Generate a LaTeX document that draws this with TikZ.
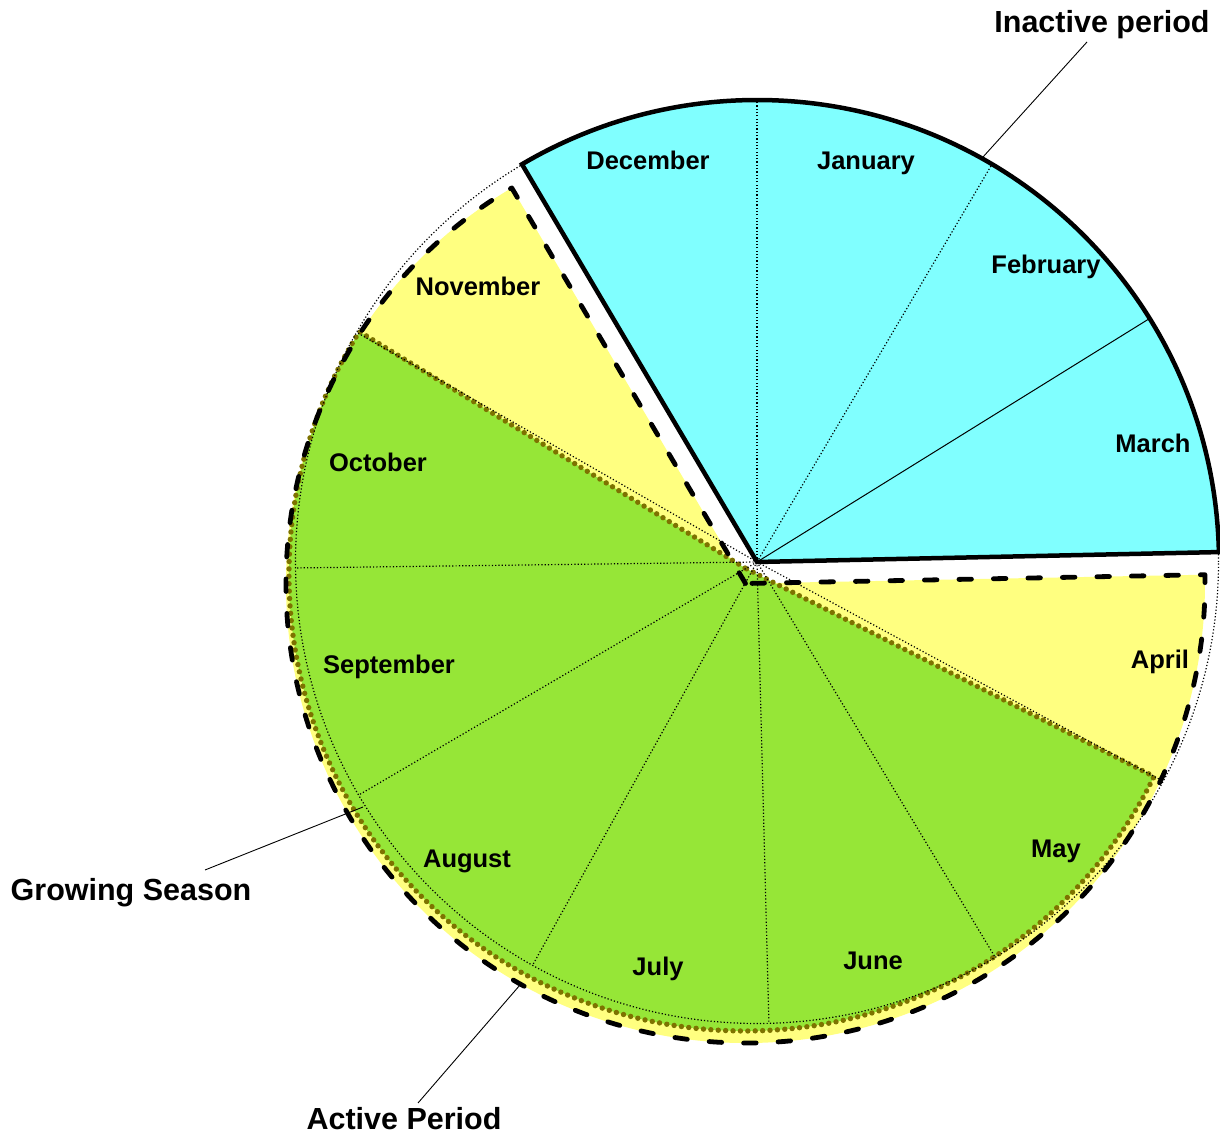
\documentclass[tikz,border=0pt]{standalone}
\usepackage{fontspec}
\setmainfont{Liberation Sans}
\definecolor{inactfill}{RGB}{128,255,255}
\definecolor{actfill}{RGB}{255,255,128}
\definecolor{growfill}{RGB}{150,230,55}
\definecolor{growdot}{RGB}{125,115,0}
\begin{document}
\begin{tikzpicture}[x=1pt,y=1pt,
  mlabel/.style={font=\fontsize{25.5}{30}\selectfont\bfseries, anchor=base, inner sep=0pt},
  olabel/.style={font=\fontsize{30.5}{36}\selectfont\bfseries, anchor=base, inner sep=0pt},
  monthline/.style={black, line width=1.2pt, dash pattern=on 1.2pt off 2.1pt},
  monthsolid/.style={black, line width=1pt},
  actborder/.style={black, line width=4.8pt, line cap=round, line join=round, dash pattern=on 12.5pt off 22pt},
  growborder/.style={growdot, line width=5.4pt, line cap=round, dash pattern=on 0pt off 7.4pt},
  inactborder/.style={black, line width=4.5pt, line join=miter},
  leader/.style={black, line width=0.9pt}
]
\useasboundingbox (0,0) rectangle (1220,1137);

% ---- centres
\coordinate (M) at (757,575);
\coordinate (Yc) at (745.5,553.5);
\coordinate (Gc) at (745,562);
\coordinate (Gapex) at (745,569);

% ---- Active period (yellow)
\path (Yc) ++(120.58:459.5) coordinate (yTL);
\fill[actfill] (Yc) -- (yTL) arc[start angle=120.58, end angle=361.1, radius=459.5] -- cycle;

% ---- Growing season (green)
\path (Gc) ++(147.74:456) coordinate (gTL);
\fill[growfill] (Gapex) -- (gTL) arc[start angle=147.74, end angle=333.77, radius=456] -- cycle;
\draw[growborder] (Gapex) -- (gTL) arc[start angle=147.74, end angle=333.77, radius=456] -- cycle;

% yellow dashed border
\draw[actborder] (Yc) -- (yTL) arc[start angle=120.58, end angle=361.1, radius=459.5] -- cycle;

% ---- Inactive period (blue)
\path (M) ++(1.23:462) coordinate (bR);
\fill[inactfill] (M) -- (bR) arc[start angle=1.23, end angle=120.58, radius=462] -- cycle;

% ---- month pie (thin dotted)
\draw[monthline] (M) circle[radius=461.5];
\foreach \a in {90,59.42,1.23,-28.36,-58.93,-88.52,-119.10,-149.67,-179.26,150.16,120.58}
  \draw[monthline] (M) -- ++(\a:461.5);
\draw[monthsolid] (M) -- ++(31.81:461.5);

% blue border
\draw[inactborder] (M) -- (bR) arc[start angle=1.23, end angle=120.58, radius=462] -- cycle;

% ---- month labels
\node[mlabel] (dec) at (648,967) {December};
\node[mlabel] (jan) at (866,967) {January};
\node[mlabel] (feb) at (1046,863) {February};
\node[mlabel] (mar) at (1153,684) {March};
\node[mlabel] (apr) at (1160,468) {April};
\node[mlabel] (may) at (1056,279) {May};
\node[mlabel] (jun) at (873,167) {June};
\node[mlabel] (jul) at (658,161) {July};
\node[mlabel] (aug) at (467,269) {August};
\node[mlabel] (sep) at (389,463) {September};
\node[mlabel] (oct) at (378,665) {October};
\node[mlabel] (nov) at (478,841) {November};

% ---- outer labels and leaders
\node[olabel] (inact) at (1102,1104) {Inactive period};
\node[olabel] (grow) at (131,236) {Growing Season};
\node[olabel] (act) at (404,7) {Active Period};

\coordinate (inactA) at (1087,1095);
\coordinate (inactB) at (983,980);
\coordinate (growA) at (205,267);
\coordinate (growB) at (363,330);
\coordinate (actA) at (418,34);
\coordinate (actB) at (520,152);
\draw[leader] (inactA) -- (inactB);
\draw[leader] (growA) -- (growB);
\draw[leader] (actA) -- (actB);
\end{tikzpicture}
\end{document}
